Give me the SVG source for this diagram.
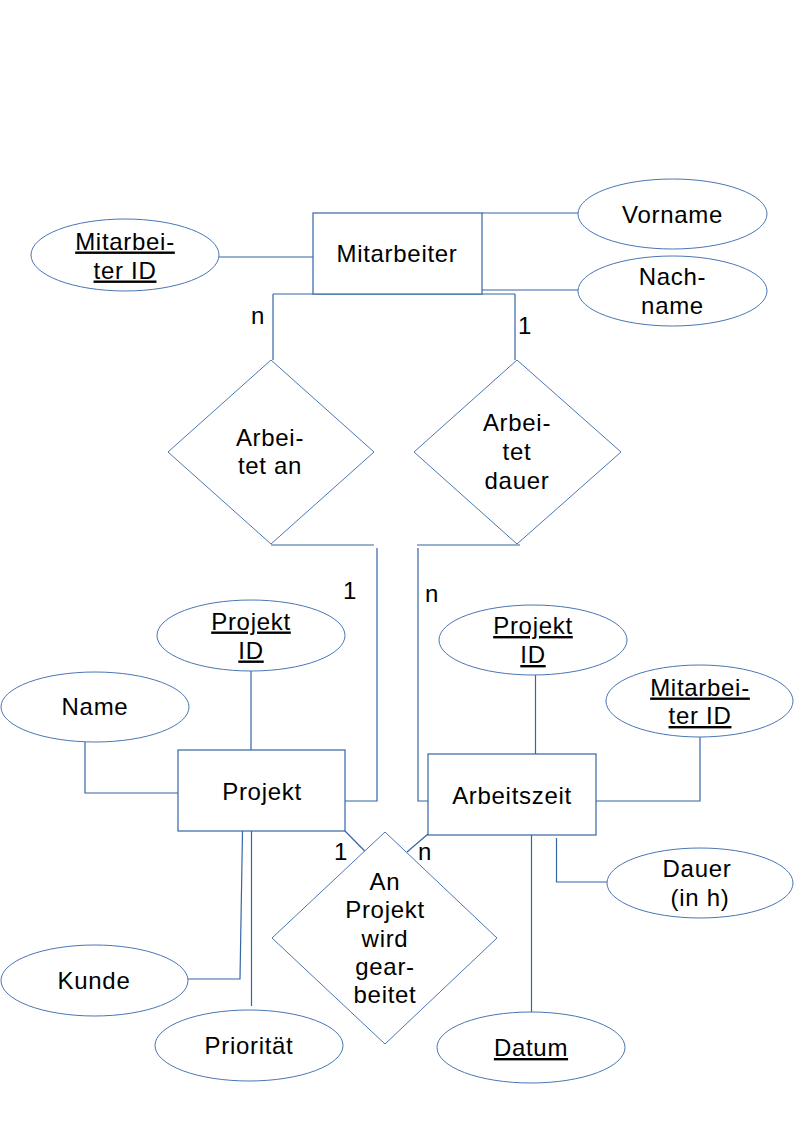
<svg xmlns="http://www.w3.org/2000/svg" width="794" height="1123" viewBox="0 0 794 1123">
<style>
  .ent, ellipse, polygon { fill: #ffffff; stroke: #3465a4; stroke-width: 1.2; }
  ellipse, polygon { stroke: #4a76b4; stroke-width: 1; }
  .c line, .c polyline { fill: none; stroke: #3465a4; stroke-width: 1.2; }
  text { font-family: "Liberation Sans", Arial, sans-serif; font-size: 24px; fill: #000000; text-anchor: middle; letter-spacing: 0.7px; }
  .u { text-decoration: underline; }
</style>
<rect width="794" height="1123" fill="#ffffff"/>

<g id="connectors" class="c">
  <line x1="219" y1="257" x2="313" y2="257"/>
  <line x1="482" y1="213" x2="578" y2="213"/>
  <line x1="482" y1="290" x2="578" y2="290"/>
  <line x1="273" y1="294" x2="515" y2="294"/>
  <line x1="273" y1="294" x2="273" y2="360"/>
  <line x1="515" y1="294" x2="515" y2="360"/>
  <line x1="271" y1="545" x2="374" y2="545"/>
  <polyline points="345,801 377,801 377,548"/>
  <line x1="417" y1="545" x2="520" y2="545"/>
  <polyline points="428,801 418,801 418,548"/>
  <line x1="251" y1="671" x2="251" y2="750"/>
  <line x1="535.5" y1="675" x2="535.5" y2="754"/>
  <polyline points="85,742 85,793 178,793"/>
  <polyline points="242.5,831 240,979 188,979"/>
  <line x1="251.5" y1="831" x2="251.5" y2="1006"/>
  <line x1="345" y1="831" x2="364.7" y2="851"/>
  <line x1="428" y1="834" x2="407" y2="852"/>
  <polyline points="596,801 700,801 700,737"/>
  <polyline points="556.5,838 556.5,882 607,882"/>
  <line x1="531.5" y1="835" x2="531.5" y2="1012"/>
</g>

<g id="mitarbeiter">
  <rect class="ent" x="313" y="213" width="169" height="81"/>
  <text x="397" y="261.5">Mitarbeiter</text>
</g>
<g id="mitarbeiter-id">
  <ellipse cx="125" cy="255" rx="94" ry="36"/>
  <text class="u" x="125" y="249.5">Mitarbei-</text>
  <text class="u" x="125" y="278.5">ter ID</text>
</g>
<g id="vorname">
  <ellipse cx="672.5" cy="214" rx="94.5" ry="35"/>
  <text x="672.5" y="222.5">Vorname</text>
</g>
<g id="nachname">
  <ellipse cx="672.5" cy="291" rx="94.5" ry="35"/>
  <text x="672.5" y="284.5">Nach-</text>
  <text x="672.5" y="313.5">name</text>
</g>

<g id="label-n-1"><text x="258" y="323.5">n</text></g>
<g id="label-1-1"><text x="525" y="333.5">1</text></g>

<g id="arbeitet-an">
  <polygon points="271,360 374,452 271,544 168,452"/>
  <text x="270" y="445.5">Arbei-</text>
  <text x="270" y="474">tet an</text>
</g>
<g id="arbeitet-dauer">
  <polygon points="517,360 621,452 517,544 414,452"/>
  <text x="517" y="430.5">Arbei-</text>
  <text x="517" y="459.5">tet</text>
  <text x="517" y="488.5">dauer</text>
</g>

<g id="label-1-2"><text x="350" y="599">1</text></g>
<g id="label-n-2"><text x="432" y="601.5">n</text></g>

<g id="projekt-id-1">
  <ellipse cx="251" cy="635.5" rx="94" ry="35.5"/>
  <text class="u" x="251" y="629.5">Projekt</text>
  <text class="u" x="251" y="658.5">ID</text>
</g>
<g id="projekt-id-2">
  <ellipse cx="533" cy="640" rx="94" ry="35"/>
  <text class="u" x="533" y="634">Projekt</text>
  <text class="u" x="533" y="663">ID</text>
</g>
<g id="mitarbeiter-id-2">
  <ellipse cx="699.5" cy="701" rx="93.5" ry="36"/>
  <text class="u" x="700" y="695.5">Mitarbei-</text>
  <text class="u" x="700" y="724">ter ID</text>
</g>
<g id="name">
  <ellipse cx="95" cy="707" rx="94" ry="35"/>
  <text x="95" y="715">Name</text>
</g>

<g id="projekt">
  <rect class="ent" x="178" y="750" width="167" height="81"/>
  <text x="262" y="799.5">Projekt</text>
</g>
<g id="arbeitszeit">
  <rect class="ent" x="428" y="754" width="168" height="81"/>
  <text x="512" y="804">Arbeitszeit</text>
</g>

<g id="label-1-3"><text x="341" y="859.5">1</text></g>
<g id="label-n-3"><text x="425" y="860">n</text></g>

<g id="an-projekt">
  <polygon points="385,832 497,938 385,1044 272,938"/>
  <text x="385" y="889.5">An</text>
  <text x="385" y="918">Projekt</text>
  <text x="385" y="946.5">wird</text>
  <text x="385" y="975">gear-</text>
  <text x="385" y="1003">beitet</text>
</g>

<g id="dauer">
  <ellipse cx="700" cy="883" rx="93" ry="35"/>
  <text x="697" y="876.5">Dauer</text>
  <text x="700" y="905.5">(in h)</text>
</g>
<g id="kunde">
  <ellipse cx="94.5" cy="980.5" rx="93.5" ry="35.5"/>
  <text x="94" y="988.5">Kunde</text>
</g>
<g id="prioritaet">
  <ellipse cx="249" cy="1045.5" rx="94" ry="35.5"/>
  <text x="249" y="1053.5">Priorität</text>
</g>
<g id="datum">
  <ellipse cx="531" cy="1047.5" rx="94" ry="35.5"/>
  <text class="u" x="531" y="1056">Datum</text>
</g>
</svg>
